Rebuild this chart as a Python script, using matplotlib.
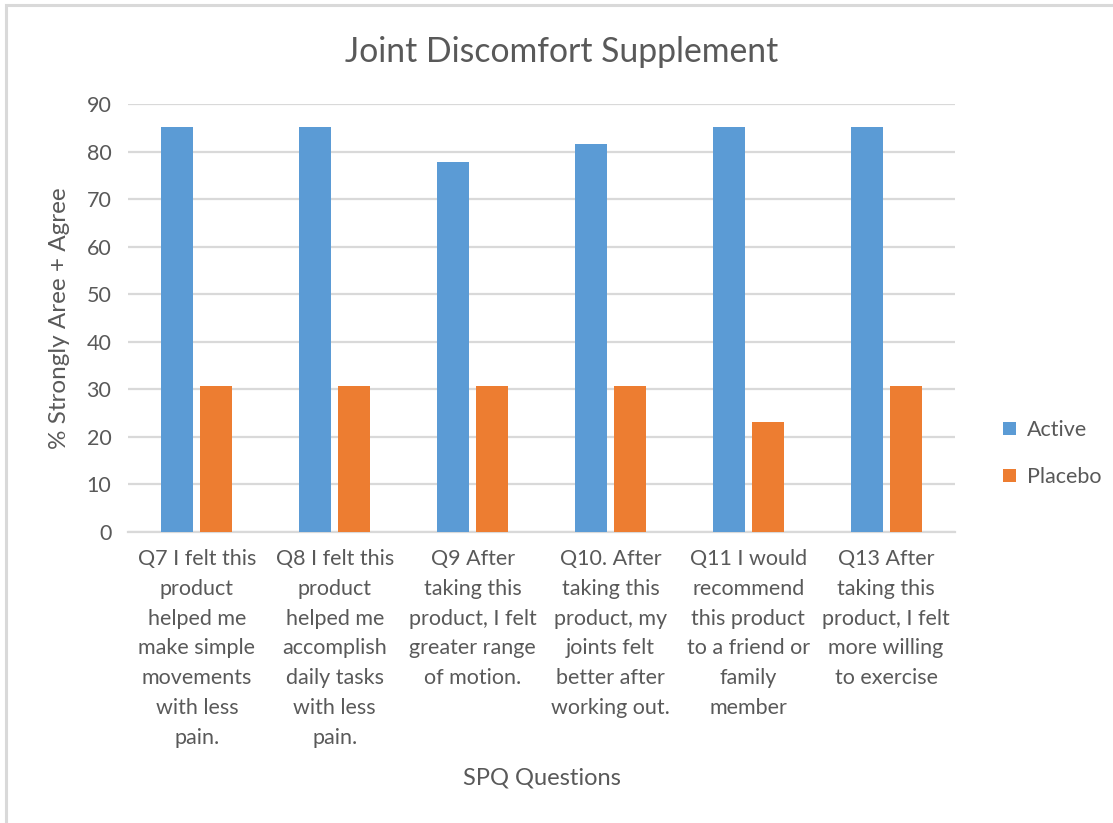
import numpy as np
import matplotlib
matplotlib.use("Agg")
import matplotlib.pyplot as plt
from matplotlib.patches import Rectangle

# data
questions = [
    "Q7 I felt this\nproduct\nhelped me\nmake simple\nmovements\nwith less\npain.",
    "Q8 I felt this\nproduct\nhelped me\naccomplish\ndaily tasks\nwith less\npain.",
    "Q9 After\ntaking this\nproduct, I felt\ngreater range\nof motion.",
    "Q10. After\ntaking this\nproduct, my\njoints felt\nbetter after\nworking out.",
    "Q11 I would\nrecommend\nthis product\nto a friend or\nfamily\nmember",
    "Q13 After\ntaking this\nproduct, I felt\nmore willing\nto exercise",
]
active = [85.2, 85.2, 77.8, 81.5, 85.2, 85.2]
placebo = [30.8, 30.8, 30.8, 30.8, 23.1, 30.8]
yticks = list(range(0, 91, 10))

W, H = 1113, 823
txt = "#595959"
grid_c = "#d9d9d9"
blue = "#5b9bd5"
orange = "#ed7d31"
plt.rcParams['font.family'] = ['Lato', 'DejaVu Sans']

fig = plt.figure(figsize=(W / 100, H / 100), dpi=100)
fig.patch.set_facecolor("white")

# light grey chart border (left and top only visible)
fig.add_artist(Rectangle((6 / W, -0.1), 1.2, 1 - 5 / H + 0.1, transform=fig.transFigure,
                         fill=False, edgecolor=grid_c, linewidth=2.2))

ax = fig.add_axes([128 / W, 1 - 532 / H, (955 - 128) / W, (532 - 104) / H])
x = np.arange(len(questions))
bw = 0.232
off = 0.1415
ax.bar(x - off, active, bw, color=blue, label="Active", zorder=3)
ax.bar(x + off, placebo, bw, color=orange, label="Placebo", zorder=3)

ax.set_xlim(-0.5, len(questions) - 0.5)
ax.set_ylim(0, 90)
ax.set_yticks(yticks)
ax.yaxis.grid(True, color=grid_c, linewidth=1.6, zorder=0)
ax.set_axisbelow(True)
for s in ["top", "right", "left"]:
    ax.spines[s].set_visible(False)
ax.spines["bottom"].set_color(grid_c)
ax.spines["bottom"].set_linewidth(1.6)
ax.tick_params(axis="both", length=0, colors=txt, labelsize=15.5)
ax.tick_params(axis="y", pad=12)
ax.tick_params(axis="x", pad=12)
ax.set_xticks(x)
ax.set_xticklabels(questions, linespacing=1.62, va="top")

ax.set_ylabel("% Strongly Aree + Agree", fontsize=17.5, color=txt, labelpad=12)
ax.set_xlabel("SPQ Questions", fontsize=17, color=txt, labelpad=14)
fig.text(562 / W, 1 - 52 / H, "Joint Discomfort Supplement", fontsize=24.3, color=txt,
         ha="center", va="center")

leg = ax.legend(loc="center left", bbox_to_anchor=(1.035, 0.183), frameon=False,
                fontsize=15.5, handlelength=0.6, handleheight=0.6, handletextpad=0.5,
                labelspacing=1.25, labelcolor=txt)

fig.savefig("out.png", dpi=100, facecolor="white")
